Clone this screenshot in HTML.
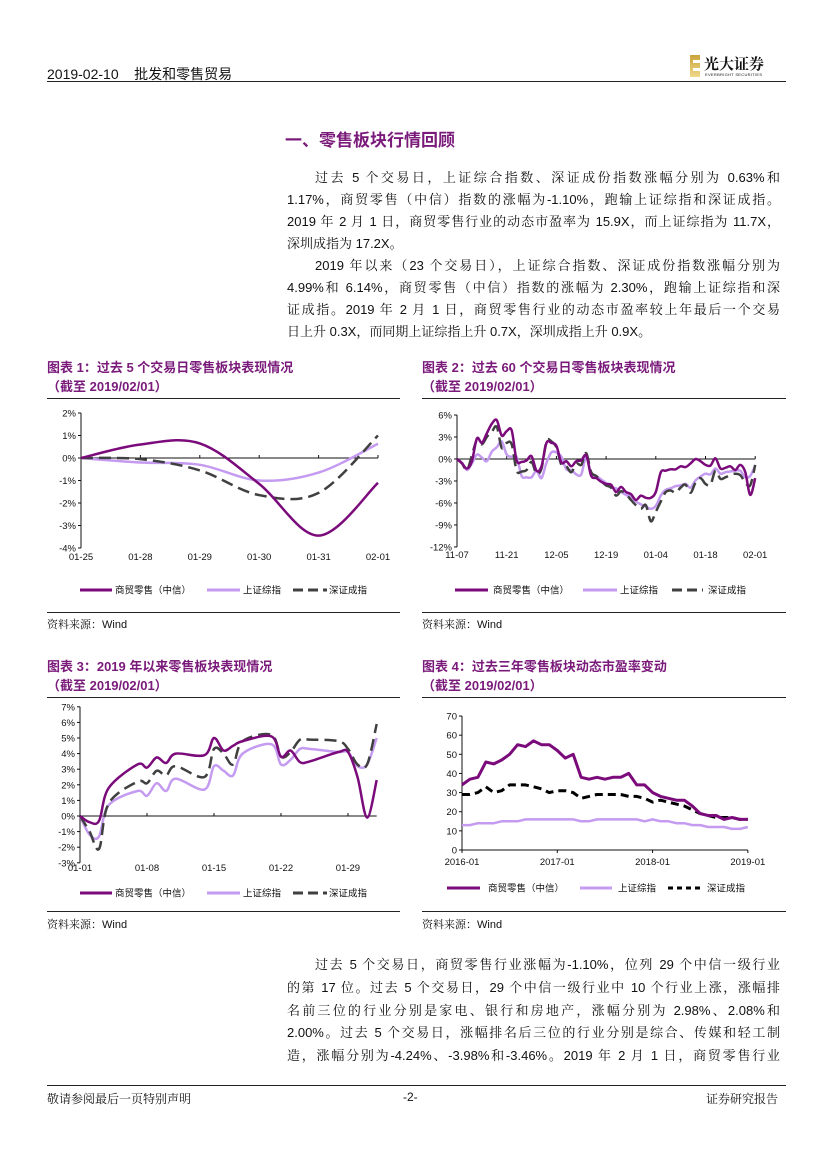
<!DOCTYPE html>
<html><head><meta charset="utf-8">
<style>
html,body{margin:0;padding:0;background:#fff;}
#page{position:relative;width:827px;height:1169px;overflow:hidden;font-family:"Liberation Sans","Noto Serif CJK SC",serif;color:#111;}
.abs{position:absolute;white-space:nowrap;}
.ln{position:absolute;left:287px;width:493px;font-size:13px;line-height:16px;text-align:justify;text-align-last:justify;white-space:nowrap;}
.ln.last{text-align-last:left;}
.ct{position:absolute;font-family:"Liberation Sans","Noto Sans CJK SC",sans-serif;font-weight:bold;font-size:13px;color:#7a1a7a;white-space:nowrap;}
.src{position:absolute;font-size:11px;font-family:"Liberation Sans","Noto Serif CJK SC",serif;}
.hr{position:absolute;height:0;border-top:1px solid #222;}
svg text{font-family:"Liberation Sans","Noto Sans CJK SC",sans-serif;}
</style></head>
<body>
<div id="page">
  <div class="abs" style="left:47px;top:64px;font-size:14px;font-family:'Liberation Sans','Noto Sans CJK SC',sans-serif;">2019-02-10&nbsp;&nbsp;&nbsp;&nbsp;批发和零售贸易</div>
  <div class="hr" style="left:47px;top:81px;width:739px;border-top:1.5px solid #222;"></div>
  <div style="position:absolute;left:690px;top:55px;width:96px;height:24px;">
    <div style="position:absolute;left:0;top:0;width:10px;height:22px;background:linear-gradient(#c9a33a,#f0d98a);"></div>
    <div style="position:absolute;left:3px;top:5px;width:7px;height:3px;background:#fff;"></div>
    <div style="position:absolute;left:3px;top:13px;width:7px;height:3px;background:#fff;"></div>
    <div class="abs" style="left:14px;top:-2px;font-size:15px;font-weight:bold;font-family:'Liberation Serif','Noto Serif CJK SC',serif;">光大证券</div>
    <div class="abs" style="left:15px;top:17px;font-size:4px;letter-spacing:0.3px;">EVERBRIGHT SECURITIES</div>
  </div>

  <div class="abs" style="left:285px;top:126px;font-size:17px;font-weight:bold;color:#7a1a7a;font-family:'Liberation Sans','Noto Sans CJK SC',sans-serif;">一、零售板块行情回顾</div>

  <div>
    <div class="ln" style="top:170px;left:315px;width:465px;">过去 5 个交易日，上证综合指数、深证成份指数涨幅分别为 0.63%和</div>
    <div class="ln" style="top:192px;">1.17%，商贸零售（中信）指数的涨幅为-1.10%，跑输上证综指和深证成指。</div>
    <div class="ln" style="top:214px;">2019 年 2 月 1 日，商贸零售行业的动态市盈率为 15.9X，而上证综指为 11.7X，</div>
    <div class="ln last" style="top:236px;">深圳成指为 17.2X。</div>
  </div>
  <div>
    <div class="ln" style="top:258px;left:315px;width:465px;">2019 年以来（23 个交易日），上证综合指数、深证成份指数涨幅分别为</div>
    <div class="ln" style="top:280px;">4.99%和 6.14%，商贸零售（中信）指数的涨幅为 2.30%，跑输上证综指和深</div>
    <div class="ln" style="top:302px;">证成指。2019 年 2 月 1 日，商贸零售行业的动态市盈率较上年最后一个交易</div>
    <div class="ln last" style="top:324px;">日上升 0.3X，而同期上证综指上升 0.7X，深圳成指上升 0.9X。</div>
  </div>

  <div class="ct" style="left:47px;top:357px;">图表 1：过去 5 个交易日零售板块表现情况<br>（截至 2019/02/01）</div>
  <div class="ct" style="left:422px;top:357px;">图表 2：过去 60 个交易日零售板块表现情况<br>（截至 2019/02/01）</div>
  <div class="hr" style="left:47px;top:398px;width:353px;"></div>
  <div class="hr" style="left:422px;top:398px;width:364px;"></div>
  <div class="hr" style="left:47px;top:612px;width:353px;"></div>
  <div class="hr" style="left:422px;top:612px;width:364px;"></div>
  <div class="src" style="left:47px;top:616px;">资料来源：Wind</div>
  <div class="src" style="left:422px;top:616px;">资料来源：Wind</div>

  <div class="ct" style="left:47px;top:656px;">图表 3：2019 年以来零售板块表现情况<br>（截至 2019/02/01）</div>
  <div class="ct" style="left:422px;top:656px;">图表 4：过去三年零售板块动态市盈率变动<br>（截至 2019/02/01）</div>
  <div class="hr" style="left:47px;top:697px;width:353px;"></div>
  <div class="hr" style="left:422px;top:697px;width:364px;"></div>
  <div class="hr" style="left:47px;top:911px;width:353px;"></div>
  <div class="hr" style="left:422px;top:911px;width:364px;"></div>
  <div class="src" style="left:47px;top:916px;">资料来源：Wind</div>
  <div class="src" style="left:422px;top:916px;">资料来源：Wind</div>

  <div>
    <div class="ln" style="top:957px;left:315px;width:465px;">过去 5 个交易日，商贸零售行业涨幅为-1.10%，位列 29 个中信一级行业</div>
    <div class="ln" style="top:980px;">的第 17 位。过去 5 个交易日，29 个中信一级行业中 10 个行业上涨，涨幅排</div>
    <div class="ln" style="top:1003px;">名前三位的行业分别是家电、银行和房地产，涨幅分别为 2.98%、2.08%和</div>
    <div class="ln" style="top:1025px;">2.00%。过去 5 个交易日，涨幅排名后三位的行业分别是综合、传媒和轻工制</div>
    <div class="ln" style="top:1048px;">造，涨幅分别为-4.24%、-3.98%和-3.46%。2019 年 2 月 1 日，商贸零售行业</div>
  </div>

  <div class="hr" style="left:47px;top:1085px;width:739px;"></div>
  <div class="abs" style="left:47px;top:1090px;font-size:12px;">敬请参阅最后一页特别声明</div>
  <div class="abs" style="left:403px;top:1090px;font-size:12px;">-2-</div>
  <div class="abs" style="left:706px;top:1090px;font-size:12px;">证券研究报告</div>

  <svg id="charts" width="827" height="1169" style="position:absolute;left:0;top:0;"></svg>
</div>

<script>
// ---- Chart 1 data ----
const c1Cats = ["01-25","01-28","01-29","01-30","01-31","02-01"];
const c1Retail = [0, 0.6, 0.65, -1.15, -3.45, -1.1];
const c1SH = [0, -0.2, -0.3, -1.0, -0.65, 0.63];
const c1SZ = [0, -0.05, -0.55, -1.65, -1.55, 1.0];
const c1YTicks = [2,1,0,-1,-2,-3,-4];

// ---- Chart 2 data ----
const c2Labels = ["11-07","11-21","12-05","12-19","01-04","01-18","02-01"];
const c2Retail = [0,-0.6,-1.3,-0.3,2.8,2.2,3.5,4.8,5.3,3.2,3.8,3.9,-0.2,-0.4,-0.2,0.4,-1.6,-1.0,2.2,2.2,1.8,-0.5,-0.3,-1.0,-0.3,-0.2,0.5,-2.3,-2.6,-3.1,-3.4,-3.5,-4.5,-3.8,-4.5,-4.8,-5.6,-5.0,-5.3,-5.3,-4.5,-1.8,-1.6,-1.4,-1.4,-1.0,-1.1,-0.6,0.0,-0.3,-0.8,-0.9,0.1,-1.3,-1.2,-1.0,-1.5,-0.8,-1.8,-4.9,-2.6];
const c2SH = [0,-0.5,-1.5,-0.6,0.6,0.2,-0.3,1.0,1.6,2.4,0.6,0.3,0.3,-2.3,-2.5,-2.5,-1.6,-2.6,-0.5,0.9,0.9,0.3,-1.4,-1.5,-2.1,-2.1,0.3,-2.0,-2.3,-2.8,-3.3,-3.9,-4.0,-4.5,-4.9,-5.2,-5.8,-6.2,-6.5,-6.8,-6.4,-5.0,-4.2,-4.0,-3.7,-3.6,-3.4,-3.9,-2.9,-2.4,-2.0,-2.1,-1.3,-2.0,-1.8,-1.7,-1.6,-1.6,-2.5,-2.3,-0.9];
const c2SZ = [0,-0.6,-1.5,0.5,2.6,2.0,3.0,3.7,4.4,1.5,2.2,2.0,-1.6,-1.7,-1.5,-0.4,-2.0,-1.3,2.4,2.4,1.6,-0.8,-1.0,-1.8,-0.6,-0.8,0.8,-1.8,-2.3,-3.0,-3.6,-3.9,-5.0,-4.4,-4.8,-5.6,-6.3,-6.8,-6.3,-8.5,-7.2,-5.8,-4.5,-4.3,-4.6,-3.9,-3.5,-4.6,-3.2,-2.6,-3.4,-3.5,-1.6,-2.7,-2.5,-2.2,-2.0,-2.2,-3.2,-3.6,-0.8];
const c2YTicks = [6,3,0,-3,-6,-9,-12];

// ---- Chart 3 data ----
const c3Days = [0,1,2,3,6,7,8,9,10,13,14,15,16,17,20,21,22,23,24,27,28,29,30,31];
const c3Labels = ["01-01","01-08","01-15","01-22","01-29"];
const c3Retail = [0,-0.4,-0.3,1.8,3.3,3.1,3.75,3.4,4.0,3.9,5.0,4.2,4.5,4.8,5.1,3.8,4.2,3.45,3.5,4.1,4.1,2.5,-0.1,2.3];
const c3SH = [0,-1.2,-1.3,0.7,1.6,1.3,2.1,1.6,2.4,1.7,3.2,2.9,2.6,4.0,4.6,3.3,3.6,4.3,4.3,4.1,4.1,3.2,3.3,5.0];
const c3SZ = [0,-1.0,-2.1,0.8,2.2,2.1,2.9,2.6,3.2,2.5,4.3,4.0,3.3,4.8,5.2,3.8,4.1,4.9,4.9,4.8,4.3,3.3,3.3,5.9];
const c3YTicks = [7,6,5,4,3,2,1,0,-1,-2,-3];

// ---- Chart 4 data (monthly) ----
const c4Labels = ["2016-01","2017-01","2018-01","2019-01"];
const c4Retail = [34,37,38,46,45,47,50,55,54,57,55,55,52,48,50,38,37,38,37,38,38,40,34,34,30,28,27,26,26,23,19,18,18,16,17,16,16];
const c4SZ = [29,29,30,33,30,31,34,34,34,33,32,30,31,31,30,27,28,29,29,29,29,28,28,27,25,26,25,24,23,21,19,18,17,17,17,16,16];
const c4SH = [13,13,14,14,14,15,15,15,16,16,16,16,16,16,16,15,15,16,16,16,16,16,16,15,16,15,15,14,14,13,13,12,12,12,11,11,12];
const c4YTicks = [70,60,50,40,30,20,10,0];

const RET="#7b0a7b", SHC="#c49bf0", SZC="#404040";
const svg=document.getElementById('charts');
const NS="http://www.w3.org/2000/svg";
function mk(tag,attrs,parent){const e=document.createElementNS(NS,tag);for(const k in attrs)e.setAttribute(k,attrs[k]);(parent||svg).appendChild(e);return e;}
function txt(x,y,s,anchor,size,parent){const t=mk('text',{x:x,y:y,'text-anchor':anchor,'font-size':size||9,fill:'#111'},parent);t.textContent=s;return t;}
function smoothPath(pts){
  let d="M"+pts[0][0].toFixed(1)+","+pts[0][1].toFixed(1);
  for(let i=0;i<pts.length-1;i++){
    const p0=pts[Math.max(i-1,0)],p1=pts[i],p2=pts[i+1],p3=pts[Math.min(i+2,pts.length-1)];
    const c1x=p1[0]+(p2[0]-p0[0])/6,c1y=p1[1]+(p2[1]-p0[1])/6;
    const c2x=p2[0]-(p3[0]-p1[0])/6,c2y=p2[1]-(p3[1]-p1[1])/6;
    d+=" C"+c1x.toFixed(1)+","+c1y.toFixed(1)+" "+c2x.toFixed(1)+","+c2y.toFixed(1)+" "+p2[0].toFixed(1)+","+p2[1].toFixed(1);
  }
  return d;
}
function linePath(pts){return pts.map((p,i)=>(i?"L":"M")+p[0].toFixed(1)+","+p[1].toFixed(1)).join(" ");}
function legend(g,y,items){
  items.forEach(it=>{
    const l=mk('line',{x1:it.x1,y1:y,x2:it.x2,y2:y,stroke:it.c,'stroke-width':3,'stroke-dasharray':it.dash||'none'},g);
    
    
    const t=txt(it.tx,y+3.5,it.label,'start',9.5,g);
    
    
  });
}
function yAxis(g,ax,top,bot,ticks,yf,fmt){
  mk('line',{x1:ax,y1:top,x2:ax,y2:bot,stroke:'#111','stroke-width':1},g);
  ticks.forEach(v=>{
    mk('line',{x1:ax-3,y1:yf(v),x2:ax,y2:yf(v),stroke:'#111'},g);
    const t=txt(ax-5,yf(v)+3.5,fmt(v),'end',9.5,g);
    
    
  });
}
function series(g,pts,color,dash,smooth,name,w){
  const p=mk('path',{d:smooth?smoothPath(pts):linePath(pts),fill:'none',stroke:color,'stroke-width':w||2.5,'stroke-dasharray':dash||'none','stroke-linejoin':'round'},g);
  
  
}
const pct=v=>v+"%";

// Chart 1
(function(){
  const g=mk('g',{});
  
  
  const x=i=>81+i*59.4, y=v=>458-v*22.5;
  yAxis(g,81,y(2),y(-4),c1YTicks,y,pct);
  mk('line',{x1:81,y1:y(0),x2:x(c1Cats.length-1),y2:y(0),stroke:'#111'},g);
  c1Cats.forEach((c,i)=>{mk('line',{x1:x(i),y1:y(0),x2:x(i),y2:y(0)-3,stroke:'#111'},g);
    const t=txt(x(i),560,c,'middle',9.5,g);});
  series(g,c1SH.map((v,i)=>[x(i),y(v)]),SHC,null,true,'line-shanghai');
  series(g,c1SZ.map((v,i)=>[x(i),y(v)]),SZC,'12,6',true,'line-shenzhen');
  series(g,c1Retail.map((v,i)=>[x(i),y(v)]),RET,null,true,'line-retail');
  legend(g,590,[{x1:80,x2:112,c:RET,tx:115,label:'商贸零售（中信）'},{x1:207,x2:240,c:SHC,tx:243,label:'上证综指'},{x1:293,x2:327,c:SZC,dash:'10,5',tx:329,label:'深证成指'}]);
})();

// Chart 2
(function(){
  const g=mk('g',{});
  
  
  const x=i=>457+i*4.97, y=v=>459-v*7.33;
  yAxis(g,457,y(6),y(-12),c2YTicks,y,pct);
  mk('line',{x1:457,y1:y(0),x2:x(60),y2:y(0),stroke:'#111'},g);
  c2Labels.forEach((c,k)=>{const i=k*10;mk('line',{x1:x(i),y1:y(0),x2:x(i),y2:y(0)-3,stroke:'#111'},g);
    const t=txt(x(i),558,c,'middle',9.5,g);});
  series(g,c2SH.map((v,i)=>[x(i),y(v)]),SHC,null,true,'line-shanghai');
  series(g,c2SZ.map((v,i)=>[x(i),y(v)]),SZC,'12,6',true,'line-shenzhen');
  series(g,c2Retail.map((v,i)=>[x(i),y(v)]),RET,null,true,'line-retail');
  legend(g,590,[{x1:455,x2:488,c:RET,tx:493,label:'商贸零售（中信）'},{x1:583,x2:617,c:SHC,tx:620,label:'上证综指'},{x1:672,x2:703,c:SZC,dash:'10,5',tx:708,label:'深证成指'}]);
})();

// Chart 3
(function(){
  const g=mk('g',{});
  
  
  const x=d=>80+d*9.57, y=v=>816-v*15.6;
  yAxis(g,80,y(7),y(-3),c3YTicks,y,pct);
  mk('line',{x1:80,y1:y(0),x2:x(31),y2:y(0),stroke:'#111'},g);
  c3Labels.forEach((c,k)=>{const d=k*7;mk('line',{x1:x(d),y1:y(0),x2:x(d),y2:y(0)-3,stroke:'#111'},g);
    const t=txt(x(d),871,c,'middle',9.5,g);});
  series(g,c3SH.map((v,i)=>[x(c3Days[i]),y(v)]),SHC,null,true,'line-shanghai');
  series(g,c3SZ.map((v,i)=>[x(c3Days[i]),y(v)]),SZC,'12,6',true,'line-shenzhen');
  series(g,c3Retail.map((v,i)=>[x(c3Days[i]),y(v)]),RET,null,true,'line-retail');
  legend(g,893,[{x1:80,x2:112,c:RET,tx:115,label:'商贸零售（中信）'},{x1:207,x2:240,c:SHC,tx:243,label:'上证综指'},{x1:293,x2:327,c:SZC,dash:'10,5',tx:329,label:'深证成指'}]);
})();

// Chart 4
(function(){
  const g=mk('g',{});
  
  
  const x=m=>462+m*7.94, y=v=>850-v*1.914;
  yAxis(g,462,y(70),y(0),c4YTicks,y,v=>String(v));
  mk('line',{x1:462,y1:y(0),x2:x(36),y2:y(0),stroke:'#111'},g);
  c4Labels.forEach((c,k)=>{const m=k*12;mk('line',{x1:x(m),y1:y(0),x2:x(m),y2:y(0)+3,stroke:'#111'},g);
    const t=txt(x(m),865,c,'middle',9.5,g);});
  series(g,c4SH.map((v,i)=>[x(i),y(v)]),SHC,null,false,'line-shanghai',2.5);
  series(g,c4SZ.map((v,i)=>[x(i),y(v)]),'#000','8,5',false,'line-shenzhen',3);
  series(g,c4Retail.map((v,i)=>[x(i),y(v)]),RET,null,false,'line-retail',3);
  legend(g,888,[{x1:447,x2:480,c:RET,tx:488,label:'商贸零售（中信）'},{x1:580,x2:612,c:SHC,tx:618,label:'上证综指'},{x1:668,x2:700,c:'#000',dash:'5,4',tx:707,label:'深证成指'}]);
})();
</script>
</body></html>
